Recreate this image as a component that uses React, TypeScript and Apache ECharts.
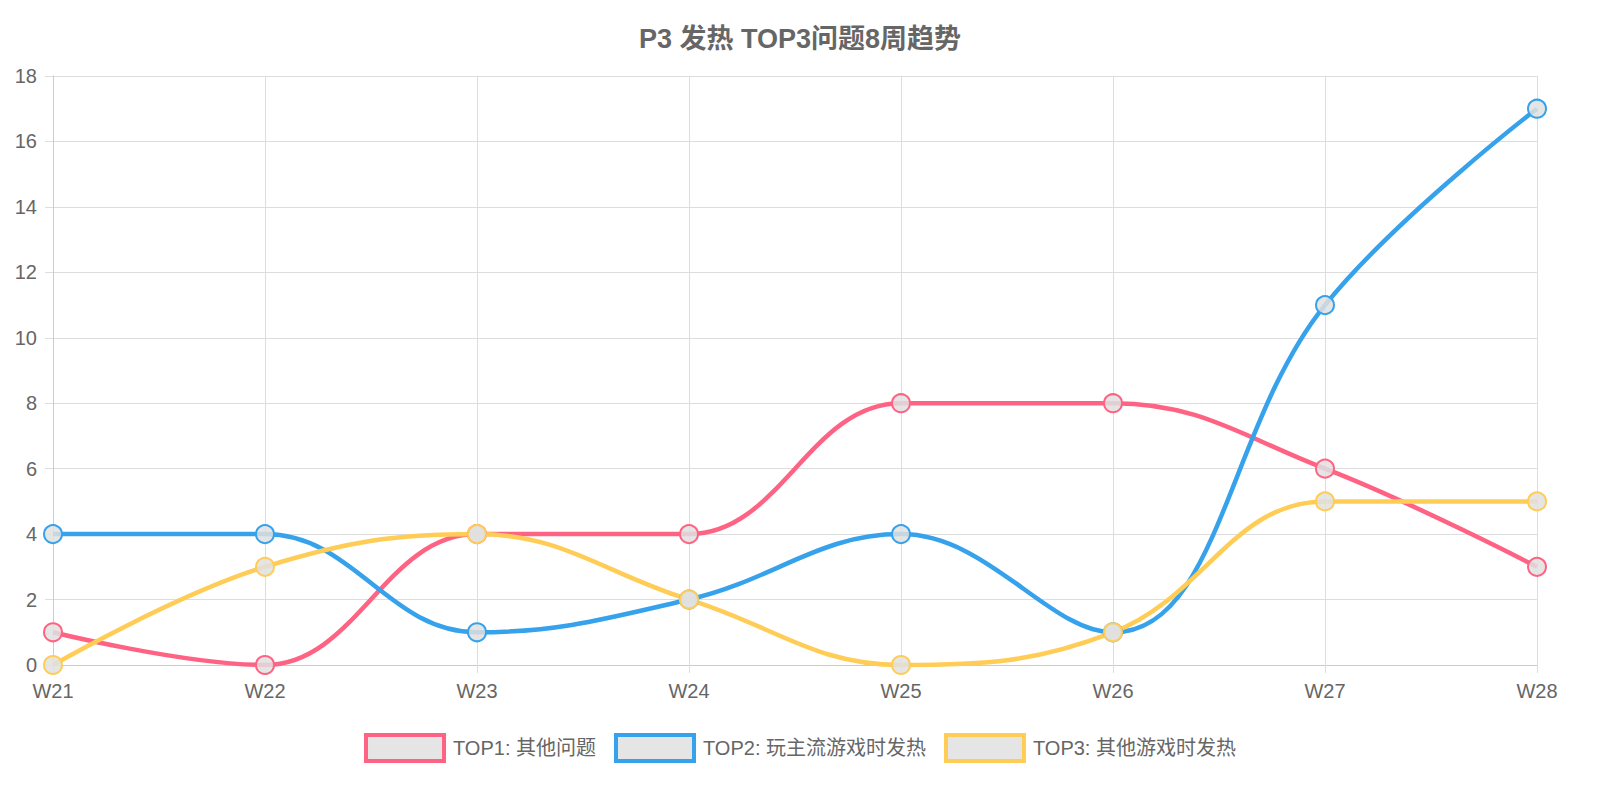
import { useEffect, useRef } from 'react';
import * as echarts from 'echarts';

const weeks = ['W21', 'W22', 'W23', 'W24', 'W25', 'W26', 'W27', 'W28'];
const top1 = [1, 0, 4, 4, 8, 8, 6, 3];
const top2 = [4, 4, 1, 2, 4, 1, 11, 17];
const top3 = [0, 3, 4, 2, 0, 1, 5, 5];
const seriesNames = ['TOP1: 其他问题', 'TOP2: 玩主流游戏时发热', 'TOP3: 其他游戏时发热'];
const colors = ['#ff6384', '#36a2eb', '#ffcd56'];

export default function App() {
  const chartRef = useRef<HTMLDivElement>(null);

  useEffect(() => {
    document.body.style.margin = '0';
    document.body.style.overflow = 'hidden';
    if (!chartRef.current) return;
    const chart = echarts.init(chartRef.current, null, { renderer: 'svg' });
    const font = 'Helvetica, Arial, "Liberation Sans", "Noto Sans CJK SC", sans-serif';
    const makeSeries = (name: string, data: number[], color: string) => ({
      name,
      type: 'line',
      data,
      smooth: 0.4,
      symbol: 'circle',
      symbolSize: 18,
      lineStyle: { color, width: 4.5 },
      itemStyle: { color: 'rgba(225,225,225,0.85)', borderColor: color, borderWidth: 2 },
    });
    chart.setOption({
      animation: false,
      textStyle: { fontFamily: font },
      title: {
        text: 'P3 发热 TOP3问题8周趋势',
        left: 'center',
        top: 20,
        textStyle: { fontSize: 27, fontWeight: 'bold', color: '#666', fontFamily: font },
      },
      legend: {
        bottom: 32,
        icon: 'rect',
        itemWidth: 78,
        itemHeight: 26,
        itemGap: 18,
        textStyle: { fontSize: 20, color: '#666', fontFamily: font, padding: [0, 0, 0, 4] },
        itemStyle: { borderWidth: 4 },
      },
      grid: { left: 53, right: 63, top: 76, bottom: 135 },
      xAxis: {
        type: 'category',
        data: weeks,
        boundaryGap: false,
        axisLine: { lineStyle: { color: '#ccc' } },
        axisTick: { show: true, length: 8, lineStyle: { color: '#ddd' } },
        axisLabel: { fontSize: 20, color: '#666', margin: 16 },
        splitLine: { show: true, lineStyle: { color: '#ddd' } },
      },
      yAxis: {
        type: 'value',
        min: 0,
        max: 18,
        interval: 2,
        axisLine: { show: true, lineStyle: { color: '#ccc' } },
        axisTick: { show: true, length: 8, lineStyle: { color: '#ddd' } },
        axisLabel: { fontSize: 20, color: '#666', margin: 16 },
        splitLine: { lineStyle: { color: '#ddd' } },
      },
      series: [
        makeSeries(seriesNames[0], top1, colors[0]),
        makeSeries(seriesNames[1], top2, colors[1]),
        makeSeries(seriesNames[2], top3, colors[2]),
      ],
    });
    return () => chart.dispose();
  }, []);

  return <div ref={chartRef} style={{ width: '100vw', height: '100vh' }} />;
}
